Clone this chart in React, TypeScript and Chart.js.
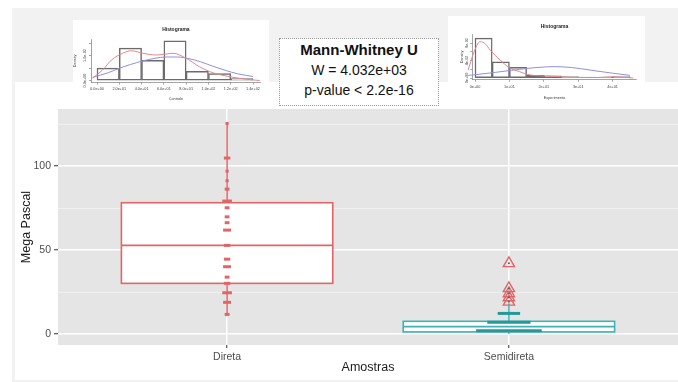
import React, { useEffect, useRef } from "react";
import { Chart, registerables } from "chart.js";

Chart.register(...registerables);

// ---------------- data ----------------
const categories = ["Direta", "Semidireta"];
const yTickValues = [0, 25, 50, 75, 100, 125];
const yTickLabels = ["0", "", "50", "", "100", ""];

// [lower whisker, Q1, median, Q3, upper whisker]
const diretaStats = [11.7, 30.2, 52.8, 78.2, 125.4];
const semidiretaStats = [0.0, 1.3, 4.4, 7.6, 18.3];

const diretaDots = [125.4, 104.8, 97, 91.3, 86.3, 79.2, 75.2, 69.8, 66.3, 61.9, 52.8, 44.6, 40.1, 33.9, 30.2, 24.6, 18.9, 11.7];
const diretaDotCounts = [1, 3, 1, 1, 2, 5, 2, 2, 2, 4, 3, 3, 4, 2, 3, 5, 4, 2];

const semidiretaDots = [2.0, 7.0, 12.3];
const semidiretaDotCounts = [40, 26, 13];
const semidiretaOutliers = [42.1, 27.2, 24.2, 21.8, 19.2];

// Histogram "Controle"
const controleEdges = [0, 20, 40, 60, 80, 100, 120, 140];
const controleDensity = [0.005, 0.013, 0.0081, 0.0159, 0.0037, 0.0028, 0.0008];
const controleKdeX = [-4, 5, 13, 23, 31, 41, 53, 62, 68, 80, 92, 104, 122, 134, 146];
const controleKdeY = [0.0009, 0.0042, 0.0082, 0.0109, 0.0119, 0.0109, 0.0102, 0.0106, 0.0109, 0.0089, 0.0055, 0.0031, 0.0013, 0.0005, 0.0];
const controleNormX = [-4, 10, 20, 30, 41, 52, 62, 72, 82, 93, 104, 115, 126, 140];
const controleNormY = [0.0013, 0.0031, 0.0049, 0.0064, 0.0078, 0.0089, 0.0094, 0.0094, 0.0088, 0.0075, 0.0057, 0.0041, 0.0027, 0.0016];
const controleXTicks = [0, 20, 40, 60, 80, 100, 120, 140];
const controleXTickLabels = ["0.0e+00", "2.0e+01", "4.0e+01", "6.0e+01", "8.0e+01", "1.0e+02", "1.2e+02", "1.4e+02"];
const controleYTicks = [0, 0.005, 0.01, 0.015];
const controleYTickLabels = ["0.0e+00", "", "1.0e-02", ""];

// Histogram "Experimento"
const experEdges = [0, 5, 10, 15, 20, 25, 30, 35, 40, 45];
const experDensity = [0.091, 0.037, 0.0245, 0.006, 0.005, 0.003, 0.002, 0.0015, 0.003];
const experKdeX = [-2, -0.5, 1.5, 3, 4.4, 7.3, 10, 13, 16, 21, 28.5, 35, 40, 46];
const experKdeY = [0.018, 0.055, 0.083, 0.078, 0.064, 0.041, 0.0235, 0.0144, 0.0069, 0.0046, 0.0016, 0.001, 0.003, 0.0];
const experNormX = [-2, 0, 6, 12, 18, 23, 28, 34, 40, 45];
const experNormY = [0.006, 0.0075, 0.013, 0.019, 0.024, 0.026, 0.024, 0.0175, 0.011, 0.006];
const experXTicks = [0, 10, 20, 30, 40];
const experXTickLabels = ["0e+00", "1e+01", "2e+01", "3e+01", "4e+01"];
const experYTicks = [0, 0.02, 0.04, 0.06, 0.08];
const experYTickLabels = ["0e+00", "", "4e-02", "", "8e-02"];

// ---------------- styles ----------------
const FONT = "'Liberation Sans', Arial, Helvetica, sans-serif";
Chart.defaults.font.family = FONT;
const RED = "#e16566";
const TEAL = "#3db3b6";
const TEAL_DARK = "#28979a";
const PANEL = "#e5e5e5";
const BOX_HALF = 0.375;

const panelBg = {
  id: "panelBg",
  beforeDraw(chart: any) {
    const { ctx, chartArea: a } = chart;
    ctx.save();
    ctx.fillStyle = PANEL;
    ctx.fillRect(a.left, a.top, a.right - a.left, a.bottom - a.top);
    ctx.restore();
  },
};

const boxPlugin = {
  id: "boxes",
  beforeDatasetsDraw(chart: any) {
    const { ctx } = chart;
    const x = chart.scales.x;
    const y = chart.scales.y;
    const boxes = [
      { pos: 1, stats: diretaStats, color: RED },
      { pos: 2, stats: semidiretaStats, color: TEAL },
    ];
    boxes.forEach((b) => {
      const [lo, q1, med, q3, hi] = b.stats;
      const xl = x.getPixelForValue(b.pos - BOX_HALF);
      const xr = x.getPixelForValue(b.pos + BOX_HALF);
      const xc = x.getPixelForValue(b.pos);
      const yq1 = y.getPixelForValue(q1);
      const yq3 = y.getPixelForValue(q3);
      ctx.save();
      ctx.strokeStyle = b.color;
      ctx.lineWidth = 1.5;
      ctx.beginPath();
      ctx.moveTo(xc, y.getPixelForValue(lo));
      ctx.lineTo(xc, yq1);
      ctx.moveTo(xc, yq3);
      ctx.lineTo(xc, y.getPixelForValue(hi));
      ctx.stroke();
      ctx.fillStyle = "#ffffff";
      ctx.fillRect(xl, yq3, xr - xl, yq1 - yq3);
      ctx.lineWidth = 1.6;
      ctx.strokeRect(xl, yq3, xr - xl, yq1 - yq3);
      ctx.lineWidth = 1.8;
      ctx.beginPath();
      const ym = y.getPixelForValue(med);
      ctx.moveTo(xl, ym);
      ctx.lineTo(xr, ym);
      ctx.stroke();
      ctx.restore();
    });
  },
};

const dotRadius = (c: number) => 0.8 + 0.8 * c;

function makeMainConfig(): any {
  return {
    type: "scatter",
    data: {
      datasets: [
        {
          data: semidiretaOutliers.map((v) => ({ x: 2, y: v })),
          pointStyle: "circle",
          pointRadius: 1,
          pointBackgroundColor: "#55606a",
          pointBorderWidth: 0,
        },
        {
          data: semidiretaOutliers.map((v) => ({ x: 2, y: v })),
          pointStyle: "triangle",
          pointRadius: 6.5,
          pointBorderColor: RED,
          pointBackgroundColor: "rgba(0,0,0,0)",
          pointBorderWidth: 1.4,
        },
        {
          data: diretaDots.map((v) => ({ x: 1, y: v })),
          pointStyle: "line",
          pointRadius: diretaDotCounts.map(dotRadius),
          pointBorderColor: RED,
          pointBorderWidth: 3,
        },
        {
          data: semidiretaDots.map((v) => ({ x: 2, y: v })),
          pointStyle: "line",
          pointRadius: semidiretaDotCounts.map(dotRadius),
          pointBorderColor: TEAL_DARK,
          pointBorderWidth: 3,
        },
      ],
    },
    options: {
      responsive: false,
      animation: false,
      events: [],
      layout: { autoPadding: false, padding: { top: 27, left: 0, right: 0, bottom: 0 } },
      plugins: { legend: { display: false }, tooltip: { enabled: false } },
      scales: {
        x: {
          type: "linear",
          min: 0.4,
          max: 2.6,
          afterBuildTicks: (s: any) => {
            s.ticks = categories.map((_, i) => ({ value: i + 1 }));
          },
          afterFit: (s: any) => {
            s.height = 35;
          },
          ticks: {
            callback: (v: any) => categories[Math.round(v) - 1],
            color: "#4d4d4d",
            font: { size: 10.5 },
            padding: 3,
            maxRotation: 0,
            autoSkip: false,
          },
          grid: { color: "#ffffff", lineWidth: 1.5, tickColor: "#333333", tickLength: 3, tickWidth: 1 },
          border: { display: false },
          title: {
            display: true,
            text: "Amostras",
            color: "#1a1a1a",
            font: { size: 12.5 },
            padding: { top: 0, bottom: 4.5 },
          },
        },
        y: {
          type: "linear",
          min: -6.5,
          max: 134,
          afterBuildTicks: (s: any) => {
            s.ticks = yTickValues.map((v) => ({ value: v }));
          },
          afterFit: (s: any) => {
            s.width = 43;
          },
          ticks: {
            callback: (v: any, i: number) => yTickLabels[i],
            color: "#4d4d4d",
            font: { size: 10.5 },
            padding: 3,
            autoSkip: false,
          },
          grid: {
            color: (c: any) => (yTickLabels[c.index] ? "#ffffff" : "#f3f3f3"),
            lineWidth: (c: any) => (yTickLabels[c.index] ? 1.5 : 0.8),
            tickColor: (c: any) => (yTickLabels[c.index] ? "#333333" : "rgba(0,0,0,0)"),
            tickLength: 4,
            tickWidth: 1,
          },
          border: { display: false },
          title: {
            display: true,
            text: "Mega Pascal",
            color: "#1a1a1a",
            font: { size: 12.5 },
            padding: { top: 4.5, bottom: 0 },
          },
        },
      },
    },
    plugins: [panelBg, boxPlugin],
  };
}

type HistSpec = {
  edges: number[];
  density: number[];
  kdeX: number[];
  kdeY: number[];
  normX: number[];
  normY: number[];
  xTicks: number[];
  xTickLabels: string[];
  yTicks: number[];
  yTickLabels: string[];
  xTitle: string;
};

type HistLayout = {
  left: number; top: number; width: number; height: number;
  xMin: number; xMax: number; yMin: number; yMax: number;
  padRight: number; yAxisWidth: number; xAxisHeight: number;
  titleTop: number; titleBottom: number; xTickPad: number; xTitlePad: number;
  yTitlePad: number; yLabelX: number;
};

const hist1Layout: HistLayout = {
  left: 68, top: 20, width: 201, height: 82,
  xMin: -5.4, xMax: 147, yMin: -0.0008, yMax: 0.0165,
  padRight: 8.2, yAxisWidth: 23, xAxisHeight: 19.5,
  titleTop: 7, titleBottom: 6.25, xTickPad: 2.2, xTitlePad: 0.7,
  yTitlePad: 4.7, yLabelX: 17,
};

const hist2Layout: HistLayout = {
  left: 448, top: 15, width: 197, height: 88,
  xMin: -0.8, xMax: 47, yMin: -0.004, yMax: 0.1,
  padRight: 8.3, yAxisWidth: 24.25, xAxisHeight: 23.25,
  titleTop: 9, titleBottom: 4.25, xTickPad: 3, xTitlePad: 2.7,
  yTitlePad: 11.4, yLabelX: 19,
};

const TICK_FONT = 3.8;

function makeHistConfig(d: HistSpec, L: HistLayout): any {
  const yLabels = {
    id: "yLabels",
    afterDraw(chart: any) {
      const { ctx } = chart;
      const y = chart.scales.y;
      ctx.save();
      ctx.fillStyle = "#444";
      ctx.font = `${TICK_FONT}px ${FONT}`;
      ctx.textAlign = "center";
      ctx.textBaseline = "middle";
      d.yTicks.forEach((v, i) => {
        const lab = d.yTickLabels[i];
        if (!lab) return;
        ctx.save();
        ctx.translate(L.yLabelX, y.getPixelForValue(v));
        ctx.rotate(-Math.PI / 2);
        ctx.fillText(lab, 0, 0);
        ctx.restore();
      });
      ctx.restore();
    },
  };
  const axisColor = "#666";
  return {
    type: "bar",
    data: {
      datasets: [
        {
          type: "line",
          data: d.kdeX.map((x, i) => ({ x, y: d.kdeY[i] })),
          borderColor: "#e0868c",
          borderWidth: 1,
          pointRadius: 0,
          cubicInterpolationMode: "monotone",
          clip: false,
        },
        {
          type: "line",
          data: d.normX.map((x, i) => ({ x, y: d.normY[i] })),
          borderColor: "#8f8fe0",
          borderWidth: 1,
          pointRadius: 0,
          cubicInterpolationMode: "monotone",
          clip: false,
        },
        {
          type: "bar",
          data: d.density.map((v, i) => ({ x: (d.edges[i] + d.edges[i + 1]) / 2, y: v })),
          backgroundColor: "rgba(0,0,0,0)",
          borderColor: "#6b6b6b",
          borderWidth: 0.8,
          borderSkipped: false,
          barPercentage: 1,
          categoryPercentage: 1,
        },
      ],
    },
    options: {
      responsive: false,
      animation: false,
      events: [],
      layout: { autoPadding: false, padding: { left: 0, right: L.padRight, top: 0, bottom: 0 } },
      plugins: {
        legend: { display: false },
        tooltip: { enabled: false },
        title: {
          display: true,
          text: "Histograma",
          color: "#222",
          font: { size: 5, weight: "bold" },
          padding: { top: L.titleTop, bottom: L.titleBottom },
          fullSize: false,
        },
      },
      scales: {
        x: {
          type: "linear",
          min: L.xMin,
          max: L.xMax,
          offset: false,
          afterBuildTicks: (s: any) => {
            s.ticks = d.xTicks.map((v) => ({ value: v }));
          },
          afterFit: (s: any) => {
            s.height = L.xAxisHeight;
          },
          ticks: {
            callback: (_v: any, i: number) => d.xTickLabels[i],
            autoSkip: false,
            maxRotation: 0,
            minRotation: 0,
            color: "#444",
            font: { size: TICK_FONT },
            padding: L.xTickPad,
          },
          grid: { drawOnChartArea: false, offset: false, tickLength: 2, color: axisColor, lineWidth: 0.6 },
          border: { display: true, color: axisColor, width: 0.6 },
          title: {
            display: true,
            text: d.xTitle,
            color: "#444",
            font: { size: TICK_FONT },
            padding: { top: 0, bottom: L.xTitlePad },
          },
        },
        y: {
          type: "linear",
          min: L.yMin,
          max: L.yMax,
          afterBuildTicks: (s: any) => {
            s.ticks = d.yTicks.map((v) => ({ value: v }));
          },
          afterFit: (s: any) => {
            s.width = L.yAxisWidth;
          },
          ticks: { display: false },
          grid: { drawOnChartArea: false, tickLength: 2, color: axisColor, lineWidth: 0.6 },
          border: { display: true, color: axisColor, width: 0.6 },
          title: {
            display: true,
            text: "Density",
            color: "#444",
            font: { size: TICK_FONT },
            padding: { top: L.yTitlePad, bottom: 0 },
          },
        },
      },
    },
    plugins: [yLabels],
  };
}

function ChartCanvas(props: { left: number; top: number; width: number; height: number; make: () => any }) {
  const ref = useRef<HTMLCanvasElement>(null);
  useEffect(() => {
    const chart = new Chart(ref.current as HTMLCanvasElement, props.make());
    return () => chart.destroy();
  }, []);
  return (
    <canvas
      ref={ref}
      width={props.width}
      height={props.height}
      style={{ position: "absolute", left: props.left, top: props.top, width: props.width, height: props.height }}
    />
  );
}

const controleSpec: HistSpec = {
  edges: controleEdges, density: controleDensity,
  kdeX: controleKdeX, kdeY: controleKdeY, normX: controleNormX, normY: controleNormY,
  xTicks: controleXTicks, xTickLabels: controleXTickLabels,
  yTicks: controleYTicks, yTickLabels: controleYTickLabels, xTitle: "Controle",
};

const experSpec: HistSpec = {
  edges: experEdges, density: experDensity,
  kdeX: experKdeX, kdeY: experKdeY, normX: experNormX, normY: experNormY,
  xTicks: experXTicks, xTickLabels: experXTickLabels,
  yTicks: experYTicks, yTickLabels: experYTickLabels, xTitle: "Experimento",
};

export default function App() {
  const abs = (l: number, t: number, w: number, h: number, extra: any = {}) => ({
    position: "absolute" as const, left: l, top: t, width: w, height: h, ...extra,
  });
  return (
    <div style={abs(0, 0, 678, 382, { background: "#ffffff", overflow: "hidden", fontFamily: FONT })}>
      <div style={abs(12, 8, 666, 374, { background: "#f2f2f2" })} />
      <div style={abs(15, 82, 663, 298, { background: "#ffffff" })} />
      <ChartCanvas left={15} top={82} width={663} height={298} make={makeMainConfig} />
      <div style={abs(73, 20, 196, 82, { background: "#ffffff" })} />
      <div style={abs(448, 16, 197, 70, { background: "#ffffff" })} />
      <ChartCanvas
        left={hist1Layout.left} top={hist1Layout.top} width={hist1Layout.width} height={hist1Layout.height}
        make={() => makeHistConfig(controleSpec, hist1Layout)}
      />
      <ChartCanvas
        left={hist2Layout.left} top={hist2Layout.top} width={hist2Layout.width} height={hist2Layout.height}
        make={() => makeHistConfig(experSpec, hist2Layout)}
      />
      <div
        style={abs(279, 38, 160, 68, {
          boxSizing: "border-box",
          background: "#ffffff",
          border: "1px dotted #9a9a9a",
          color: "#111",
          textAlign: "center",
          paddingTop: 1,
        })}
      >
        <div style={{ fontWeight: "bold", fontSize: 15, lineHeight: "20px" }}>Mann-Whitney U</div>
        <div style={{ fontSize: 14, lineHeight: "20px" }}>W = 4.032e+03</div>
        <div style={{ fontSize: 14, lineHeight: "20px" }}>p-value &lt; 2.2e-16</div>
      </div>
    </div>
  );
}
